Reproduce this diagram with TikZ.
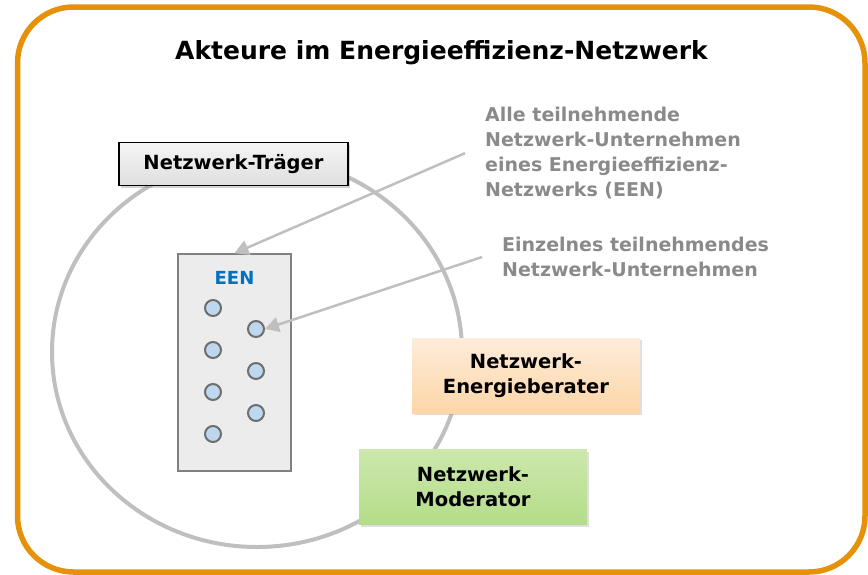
\documentclass[tikz,border=0pt]{standalone}
\usepackage{fontspec}
\setmainfont{DejaVu Sans}
\usepackage{tikz}
\usetikzlibrary{positioning, arrows.meta, shadows}
\definecolor{framecol}{RGB}{230,145,10}
\definecolor{ringcol}{RGB}{191,191,191}
\definecolor{notecol}{RGB}{138,138,138}
\definecolor{eenblue}{RGB}{0,112,192}
\definecolor{dotfill}{RGB}{189,215,238}
\definecolor{dotline}{RGB}{110,110,110}
\definecolor{beraterTop}{RGB}{254,236,218}
\definecolor{beraterBot}{RGB}{252,214,168}
\definecolor{moderatorTop}{RGB}{204,232,172}
\definecolor{moderatorBot}{RGB}{180,221,138}
\tikzset{
  >={Triangle[length=14pt,width=15pt]},
  label/.style={font=\bfseries\fontsize{19.5}{25}\selectfont, align=center},
  role/.style={label, minimum width=228pt, minimum height=75pt, inner sep=0pt,
    drop shadow={shadow xshift=2pt, shadow yshift=-2pt, opacity=.25}},
  note/.style={font=\bfseries\fontsize{19}{25}\selectfont, text=notecol,
    align=left, inner sep=0pt, anchor=north west},
  member/.style={circle, fill=dotfill, draw=dotline, line width=2pt,
    minimum size=16pt, inner sep=0pt},
  pointer/.style={->, draw=ringcol, line width=2.5pt},
}

\begin{document}
\begin{tikzpicture}[x=1pt, y=-1pt]
  \useasboundingbox (0,0) rectangle (868,574);

  % frame and title
  \draw[framecol, line width=5.5pt, rounded corners=56pt] (17.5,7) rectangle (865,572);
  \node[anchor=base, inner sep=0pt, font=\bfseries\fontsize{25}{30}\selectfont] (title) at (441.5,59)
    {Akteure im Energieeffizienz-Netzwerk};

  % network ring
  \draw[ringcol, line width=4pt] (257,352) ellipse [x radius=205, y radius=195];

  % carrier
  \node[label, draw=black, line width=1.2pt, top color=gray!8, bottom color=gray!25,
    minimum width=229pt, minimum height=43pt, inner sep=0pt,
    drop shadow={shadow xshift=2pt, shadow yshift=-2pt, opacity=.35}] (traeger) at (233.5,164)
    {Netzwerk-Tr\"ager};

  % network members
  \node[draw=gray!100, fill=gray!15, line width=1.5pt, minimum width=113pt,
    minimum height=217pt, inner sep=0pt] (een) at (234.5,362.5) {};
  \node[below=18pt of een.north, inner sep=0pt, text=eenblue,
    font=\bfseries\fontsize{18}{22}\selectfont] (eenlabel) {EEN};
  \node[member] (d1) at (213,308) {};
  \node[member] (d2) at (213,350) {};
  \node[member] (d3) at (213,392) {};
  \node[member] (d4) at (213,434) {};
  \node[member] (d5) at (256,329) {};
  \node[member] (d6) at (256,371) {};
  \node[member] (d7) at (256,413) {};

  % advisor and moderator
  \node[role, top color=beraterTop, bottom color=beraterBot] (berater) at (526,375.5)
    {Netzwerk-\\Energieberater};
  \node[role, top color=moderatorTop, bottom color=moderatorBot] (moderator) at (473,487)
    {Netzwerk-\\Moderator};

  % notes
  \node[note] (note1) at (485,107)
    {Alle teilnehmende\\Netzwerk-Unternehmen\\eines Energieeffizienz-\\Netzwerks (EEN)};
  \node[note] (note2) at (502,237)
    {Einzelnes teilnehmendes\\Netzwerk-Unternehmen};

  \draw[pointer] ([xshift=-20pt]note1.west) -- (een.north);
  \draw[pointer] ([xshift=-20pt]note2.west) -- (d5.east);
\end{tikzpicture}
\end{document}
